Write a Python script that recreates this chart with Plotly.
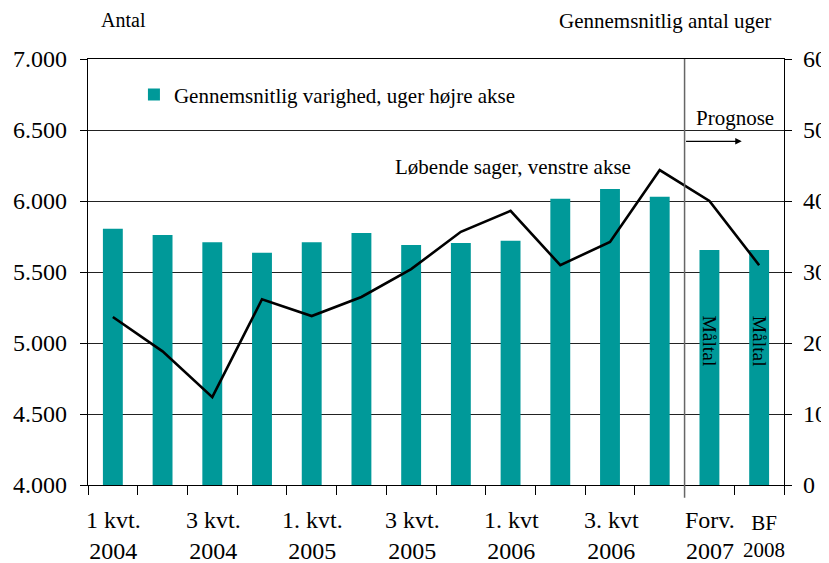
import plotly.graph_objects as go

# ---- data ----
categories = ["1 kvt. 2004", "2 kvt. 2004", "3 kvt. 2004", "4 kvt. 2004",
              "1. kvt. 2005", "2 kvt. 2005", "3 kvt. 2005", "4 kvt. 2005",
              "1. kvt 2006", "2 kvt 2006", "3. kvt 2006", "4 kvt 2006",
              "Forv. 2007", "BF 2008"]
varighed_uger = [36.1, 35.2, 34.2, 32.7, 34.2, 35.5, 33.8, 34.1,
                 34.4, 40.3, 41.7, 40.6, 33.1, 33.1]
loebende_sager = [5183, 4941, 4619, 5308, 5190, 5324, 5520, 5783,
                  5931, 5548, 5712, 6218, 6001, 5548]
label_idx = [0, 2, 4, 6, 8, 10, 12]
label_text = ["1 kvt.<br>2004", "3 kvt.<br>2004", "1. kvt.<br>2005", "3 kvt.<br>2005",
              "1. kvt<br>2006", "3. kvt<br>2006", "Forv.<br>2007"]
bf_label = "BF<br>2008"
left_ticks = [4000, 4500, 5000, 5500, 6000, 6500, 7000]
right_ticks = [0, 10, 20, 30, 40, 50, 60]

FONT = "Liberation Serif"
TEAL = "#009999"
TXT = 21

n = len(categories)
xs = list(range(n))

fig = go.Figure()
# bars on the right-hand axis (base axis "y")
fig.add_trace(go.Bar(
    x=xs, y=varighed_uger, yaxis="y", width=0.4,
    marker=dict(color=TEAL, line=dict(width=0)),
    name="Gennemsnitlig varighed, uger højre akse", showlegend=True))
# line on the left-hand axis (overlaying axis "y2", drawn on top)
fig.add_trace(go.Scatter(
    x=xs, y=loebende_sager, yaxis="y2", mode="lines",
    line=dict(color="black", width=2.6),
    name="Løbende sager, venstre akse", showlegend=False))

annotations = []
for i, t in zip(label_idx, label_text):
    annotations.append(dict(x=i, y=0, xref="x", yref="paper", text=t, showarrow=False,
                            yanchor="top", yshift=-20, xshift=1,
                            font=dict(family=FONT, size=24, color="black")))
annotations.append(dict(x=n - 1, y=0, xref="x", yref="paper", text=bf_label, showarrow=False,
                        yanchor="top", yshift=-24, xshift=5,
                        font=dict(family=FONT, size=21, color="black")))
for i in (n - 2, n - 1):
    annotations.append(dict(x=i, y=20.3, xref="x", yref="y", text="Måltal", textangle=90,
                            showarrow=False, font=dict(family=FONT, size=19.5, color="black")))
annotations += [
    dict(x=0, y=1, xref="paper", yref="paper", text="Antal", showarrow=False,
         xanchor="left", yanchor="bottom", xshift=11, yshift=26,
         font=dict(family=FONT, size=20, color="black")),
    dict(x=1, y=1, xref="paper", yref="paper", text="Gennemsnitlig antal uger", showarrow=False,
         xanchor="right", yanchor="bottom", xshift=-11, yshift=24,
         font=dict(family=FONT, size=TXT, color="black")),
    dict(x=n - 2.5, y=51.7, xref="x", yref="y", text="Prognose", showarrow=False,
         xanchor="left", xshift=9, font=dict(family=FONT, size=TXT, color="black")),
    dict(x=n - 3.35, y=44.8, xref="x", yref="y", text="Løbende sager, venstre akse",
         showarrow=False, xanchor="right", xshift=-9, font=dict(family=FONT, size=TXT, color="black")),
    dict(x=n - 1.35, y=48.4, xref="x", yref="y", ax=n - 2.5, ay=48.4, axref="x", ayref="y",
         showarrow=True, arrowhead=2, arrowsize=1, arrowwidth=1.3, arrowcolor="black", text=""),
]

tickfont = dict(family=FONT, size=24, color="black")

fig.update_layout(
    width=821, height=555,
    margin=dict(l=80, r=45, t=51, b=78, autoexpand=False),
    paper_bgcolor="white", plot_bgcolor="white",
    separators=",.",
    font=dict(family=FONT, size=TXT, color="black"),
    bargap=0.6,
    xaxis=dict(range=[-0.5, n - 0.5], tickvals=[i - 0.5 for i in range(n + 1)],
               showticklabels=False, ticks="outside", ticklen=9, tickcolor="black",
               showgrid=False, zeroline=False, showline=True, linecolor="black",
               linewidth=1.2, mirror=True, automargin=False),
    yaxis=dict(range=[right_ticks[0], right_ticks[-1]], tickvals=right_ticks,
               side="right", ticks="outside", ticklen=7, tickcolor="black",
               ticklabelstandoff=6, tickfont=tickfont,
               showgrid=True, gridcolor="#222222", gridwidth=1, zeroline=False,
               showline=True, linecolor="black", linewidth=1.2, automargin=False),
    yaxis2=dict(range=[left_ticks[0], left_ticks[-1]], tickvals=left_ticks, tickformat=",d",
                overlaying="y", side="left", ticks="outside", ticklen=7, tickcolor="black",
                ticklabelstandoff=8, tickfont=tickfont, showgrid=False, zeroline=False,
                showline=True, linecolor="black", linewidth=1.2, automargin=False),
    legend=dict(x=0.066, y=0.964, xanchor="left", yanchor="top", bgcolor="rgba(0,0,0,0)",
                font=dict(family=FONT, size=TXT, color="black"), itemwidth=30),
    shapes=[dict(type="line", xref="x", yref="paper", x0=n - 2.5, x1=n - 2.5, y0=-0.03, y1=1,
                 line=dict(color="#666666", width=1.5))],
    annotations=annotations,
)

fig.write_html("out.html")
